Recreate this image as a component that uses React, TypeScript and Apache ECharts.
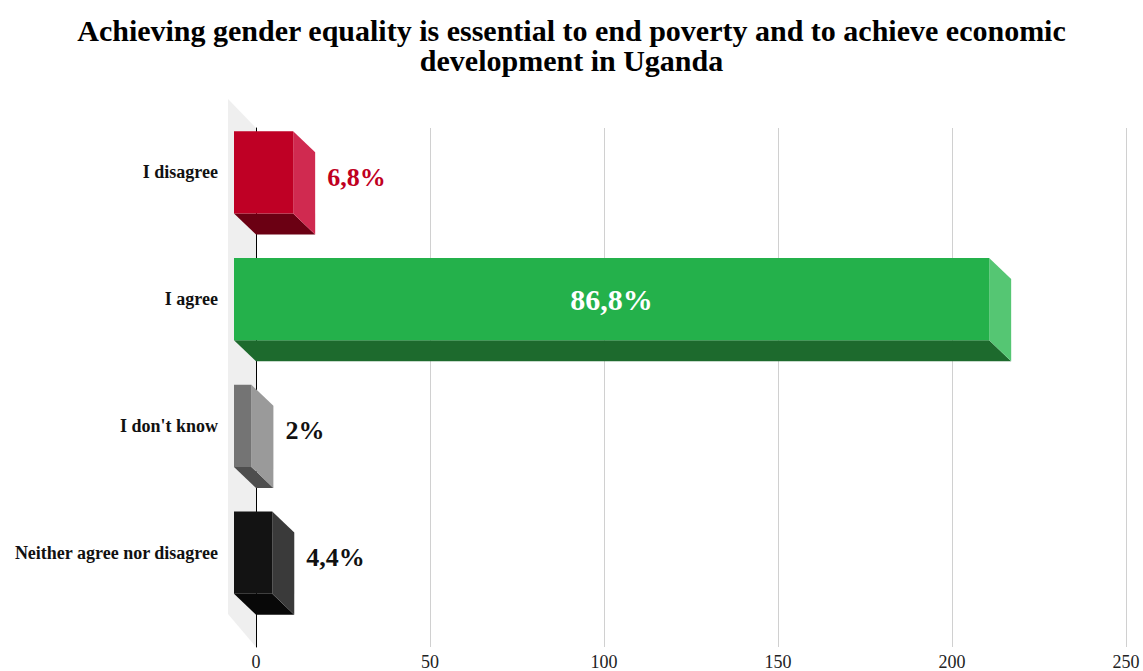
import React, { useEffect, useRef } from "react";
import * as echarts from "echarts";

const titleText =
  "Achieving gender equality is essential to end poverty and to achieve economic\ndevelopment in Uganda";
const categories = ["I disagree", "I agree", "I don't know", "Neither agree nor disagree"];
const counts = [17, 217, 5, 11];
const percentLabels = ["6,8%", "86,8%", "2%", "4,4%"];
const frontColors = ["#bf0025", "#24b14b", "#747474", "#131313"];
const sideColors = ["#d02a50", "#55c673", "#9a9a9a", "#3a3a3a"];
const bottomColors = ["#6b0013", "#1d6a2d", "#4e4e4e", "#080808"];
const labelColors = ["#c0001f", "#ffffff", "#111111", "#111111"];
const xMin = 0;
const xMax = 250;
const xInterval = 50;

const SERIF = "'Liberation Serif', 'Times New Roman', serif";
const DX = 22;
const DY = 21;

export default function App() {
  const ref = useRef<HTMLDivElement>(null);

  useEffect(() => {
    if (!ref.current) return;
    const chart = echarts.init(ref.current, undefined, { renderer: "svg" });

    const barData = counts.map((v, i) => [v, i]);

    const option: any = {
      animation: false,
      backgroundColor: "#ffffff",
      title: {
        text: titleText,
        left: "center",
        top: 10,
        textStyle: {
          fontFamily: SERIF,
          fontWeight: "bold",
          fontSize: 30,
          lineHeight: 30,
          color: "#000",
        },
      },
      grid: [
        { left: 256, right: 17, top: 128, bottom: 23 },
        { left: 256, right: 17, top: 130, height: 507 },
      ],
      xAxis: [
        {
          type: "value",
          gridIndex: 0,
          min: xMin,
          max: xMax,
          interval: xInterval,
          axisLine: { show: false },
          axisTick: { show: false },
          splitLine: { show: true, lineStyle: { color: "#d0d0d0", width: 1 } },
          axisLabel: { fontFamily: SERIF, fontSize: 18, color: "#222", margin: 6 },
        },
        {
          type: "value",
          gridIndex: 1,
          min: xMin,
          max: xMax,
          interval: xInterval,
          show: false,
        },
      ],
      yAxis: [
        {
          type: "category",
          gridIndex: 0,
          data: categories,
          inverse: true,
          z: 1,
          axisLine: { show: true, lineStyle: { color: "#000", width: 1 } },
          axisTick: { show: false },
          axisLabel: { show: false },
          splitLine: { show: false },
        },
        {
          type: "category",
          gridIndex: 1,
          data: categories,
          inverse: true,
          axisLine: { show: false },
          axisTick: { show: false },
          splitLine: { show: false },
          axisLabel: {
            show: true,
            fontFamily: SERIF,
            fontWeight: "bold",
            fontSize: 18,
            color: "#111",
            margin: 38,
            verticalAlign: "bottom",
            lineHeight: DY * 2,
          },
        },
      ],
      series: [
        {
          type: "custom",
          name: "wall",
          xAxisIndex: 0,
          yAxisIndex: 0,
          z: 0,
          silent: true,
          data: [[0, 0]],
          renderItem: (params: any, api: any) => {
            const cs = params.coordSys;
            const x0 = api.coord([xMin, 0])[0];
            const top = cs.y;
            const bottom = cs.y + cs.height;
            return {
              type: "polygon",
              shape: {
                points: [
                  [x0 - 28, top - 29],
                  [x0, top],
                  [x0, bottom],
                  [x0 - 28, bottom - 33],
                ],
              },
              style: { fill: "#efefef" },
            };
          },
        },
        {
          type: "custom",
          name: "responses",
          xAxisIndex: 1,
          yAxisIndex: 1,
          z: 2,
          data: barData,
          encode: { x: 0, y: 1 },
          renderItem: (params: any, api: any) => {
            const i = params.dataIndex;
            const val = api.value(0);
            const idx = api.value(1);
            const p0 = api.coord([0, idx]);
            const p1 = api.coord([val, idx]);
            const band = api.size([0, 1])[1];
            const h = band * 0.647;
            const bx0 = p0[0];
            const bx1 = p1[0];
            const by0 = p0[1] - h / 2;
            const by1 = p0[1] + h / 2;
            const fx0 = bx0 - DX;
            const fx1 = bx1 - DX;
            const fy0 = by0 - DY;
            const fy1 = by1 - DY;
            const fcy = (fy0 + fy1) / 2;
            const inside = val > 100;
            const children: any[] = [
              {
                type: "polygon",
                shape: { points: [[fx0, fy1], [fx1, fy1], [bx1, by1], [bx0, by1]] },
                style: { fill: bottomColors[i] },
              },
              {
                type: "polygon",
                shape: { points: [[fx1, fy0], [bx1, by0], [bx1, by1], [fx1, fy1]] },
                style: { fill: sideColors[i] },
              },
              {
                type: "rect",
                shape: { x: fx0, y: fy0, width: fx1 - fx0, height: fy1 - fy0 },
                style: { fill: frontColors[i] },
              },
              {
                type: "text",
                style: {
                  text: percentLabels[i],
                  x: inside ? (fx0 + fx1) / 2 : bx1 + 12,
                  y: inside ? fcy : fcy + 5,
                  align: inside ? "center" : "left",
                  verticalAlign: "middle",
                  fontFamily: SERIF,
                  fontWeight: "bold",
                  fontSize: inside ? 30 : 26,
                  fill: labelColors[i],
                },
              },
            ];
            return { type: "group", children };
          },
        },
      ],
    };

    chart.setOption(option);
    return () => chart.dispose();
  }, []);

  return (
    <div
      ref={ref}
      style={{ position: "fixed", left: 0, top: 0, width: 1143, height: 671 }}
    />
  );
}
